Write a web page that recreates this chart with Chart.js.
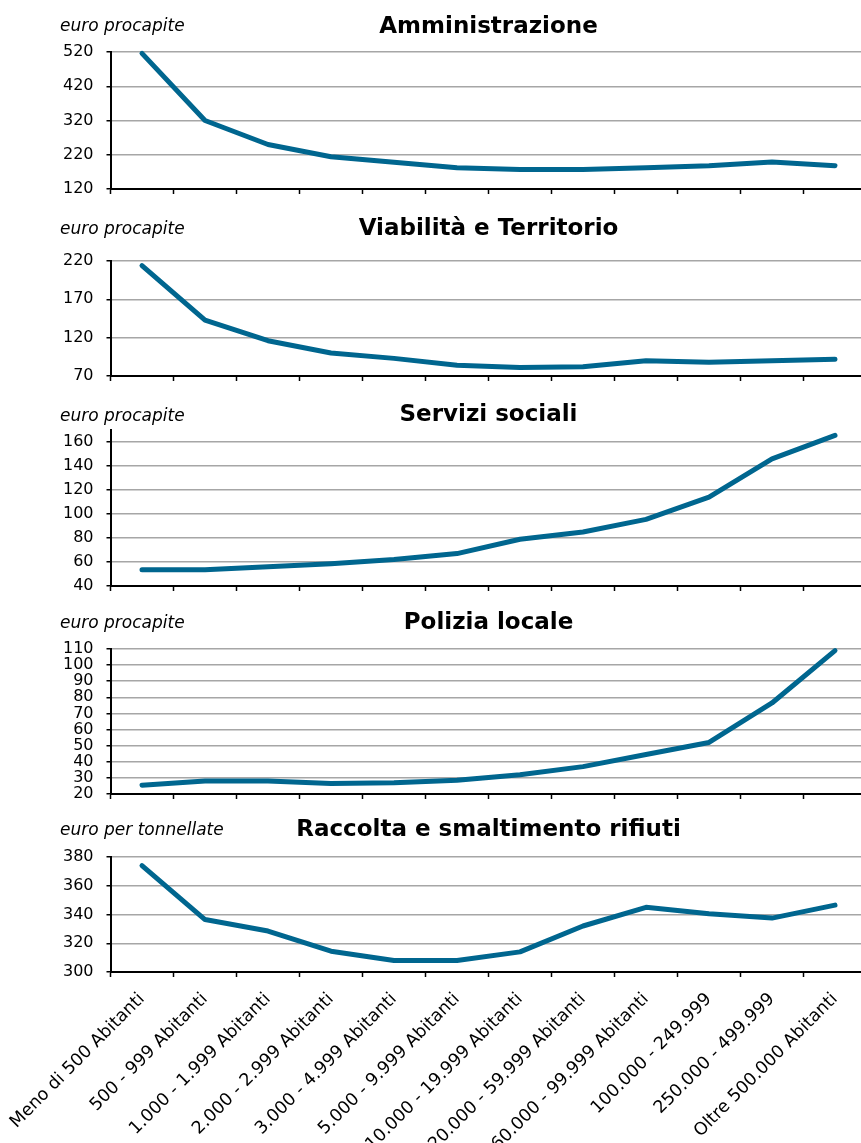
<!DOCTYPE html>
<html>
<head>
<meta charset="utf-8">
<script src="https://cdn.jsdelivr.net/npm/chart.js@4.4.0/dist/chart.umd.min.js"></script>
<style>
  html, body { margin: 0; padding: 0; background: #fff; overflow: hidden; width: 861px; height: 1143px; }
  canvas { position: absolute; left: 0; }
</style>
</head>
<body>
<canvas id="c1"></canvas>
<canvas id="c2"></canvas>
<canvas id="c3"></canvas>
<canvas id="c4"></canvas>
<canvas id="c5"></canvas>
<script>
const categories = ['Meno di 500 Abitanti','500 - 999 Abitanti','1.000 - 1.999 Abitanti','2.000 - 2.999 Abitanti','3.000 - 4.999 Abitanti','5.000 - 9.999 Abitanti','10.000 - 19.999 Abitanti','20.000 - 59.999 Abitanti','60.000 - 99.999 Abitanti','100.000 - 249.999','250.000 - 499.999','Oltre 500.000 Abitanti'];

const amministrazione = [516, 320, 250, 214, 198, 182, 177, 177, 182, 188, 199, 188];
const viabilita = [214, 143, 116, 100, 93, 84, 81, 82, 90, 88, 90, 92];
const serviziSociali = [53.5, 53.5, 56, 58.5, 62, 67, 79, 85, 95.5, 114, 146, 165.5];
const poliziaLocale = [25.5, 28, 28, 26.5, 27, 28.6, 32, 37, 44.5, 52, 76.5, 109];
const rifiuti = [374, 336.5, 328.5, 314.5, 308, 308, 314, 332, 345, 340.5, 337.5, 346.5];

const ammTicks = [120, 220, 320, 420, 520];
const viaTicks = [70, 120, 170, 220];
const socTicks = [40, 60, 80, 100, 120, 140, 160];
const polTicks = [20, 30, 40, 50, 60, 70, 80, 90, 100, 110];
const rifTicks = [300, 320, 340, 360, 380];

const titles = ['Amministrazione', 'Viabilità e Territorio', 'Servizi sociali', 'Polizia locale', 'Raccolta e smaltimento rifiuti'];
const units = ['euro procapite', 'euro procapite', 'euro procapite', 'euro procapite', 'euro per tonnellate'];

const FONT = "'DejaVu Sans', sans-serif";
const LINE_COLOR = '#00668f';
const CANVAS_W = 870;

function makePanel(cfg) {
  const cv = document.getElementById(cfg.id);
  cv.width = CANVAS_W;
  cv.height = cfg.h;
  cv.style.top = cfg.top + 'px';
  cv.style.width = CANVAS_W + 'px';
  cv.style.height = cfg.h + 'px';
  const textPlugin = {
    id: 'panelText',
    afterDraw(chart) {
      const ctx = chart.ctx;
      const area = chart.chartArea;
      ctx.save();
      ctx.fillStyle = '#000';
      ctx.textBaseline = 'alphabetic';
      ctx.font = "bold 23px " + FONT;
      ctx.textAlign = 'center';
      ctx.fillText(cfg.title, (area.left + area.right) / 2, cfg.titleBase - cfg.top);
      ctx.font = "oblique 17px " + FONT;
      ctx.textAlign = 'left';
      ctx.fillText(cfg.unit, 60, cfg.unitBase - cfg.top);
      ctx.restore();
    }
  };
  return new Chart(cv, {
    type: 'line',
    data: {
      labels: categories,
      datasets: [{
        data: cfg.data,
        borderColor: LINE_COLOR,
        borderWidth: 5,
        borderCapStyle: 'round',
        borderJoinStyle: 'round',
        pointRadius: 0,
        tension: 0,
        fill: false,
        clip: 6
      }]
    },
    options: {
      responsive: false,
      animation: false,
      devicePixelRatio: 1,
      layout: { padding: { top: cfg.areaTop - cfg.top, right: 3.5, bottom: 0, left: 0 } },
      plugins: { legend: { display: false }, tooltip: { enabled: false }, title: { display: false } },
      scales: {
        x: {
          type: 'category',
          offset: true,
          grid: { display: true, offset: true, drawOnChartArea: false, drawTicks: true, tickLength: 5, tickColor: '#000', tickWidth: 1.5 },
          border: { display: true, color: '#000', width: 2 },
          ticks: {
            display: cfg.showX,
            autoSkip: false,
            minRotation: 45,
            maxRotation: 45,
            padding: 12,
            color: '#000',
            font: { family: FONT, size: 17.5 }
          },
          afterFit(scale) {
            scale.height = cfg.top + cfg.h - cfg.areaBottom;
            scale.paddingLeft = 0;
            scale.paddingRight = 0;
          }
        },
        y: {
          min: cfg.min,
          max: cfg.max,
          grid: { color: '#a6a6a6', lineWidth: 1.5, drawTicks: true, tickLength: 4, tickColor: '#000', tickWidth: 1.5 },
          border: { display: true, color: '#000', width: 2 },
          ticks: {
            autoSkip: false,
            color: '#000',
            padding: 13,
            font: { family: FONT, size: 16 }
          },
          afterBuildTicks(scale) { scale.ticks = cfg.ticks.map(v => ({ value: v })); },
          afterFit(scale) { scale.width = 110.5; }
        }
      }
    },
    plugins: [textPlugin]
  });
}

// canvases overlap (transparent) so that each x axis has room below its plot area
makePanel({ id: 'c1', top: 0, h: 225, areaTop: 52, areaBottom: 189, titleBase: 33, unitBase: 31, title: titles[0], unit: units[0], data: amministrazione, min: 120, max: 520, ticks: ammTicks, showX: false });
makePanel({ id: 'c2', top: 200, h: 212, areaTop: 261, areaBottom: 376, titleBase: 235, unitBase: 234, title: titles[1], unit: units[1], data: viabilita, min: 70, max: 220, ticks: viaTicks, showX: false });
makePanel({ id: 'c3', top: 390, h: 232, areaTop: 430, areaBottom: 586, titleBase: 421, unitBase: 421, title: titles[2], unit: units[2], data: serviziSociali, min: 40, max: 170, ticks: socTicks, showX: false });
makePanel({ id: 'c4', top: 600, h: 229, areaTop: 649, areaBottom: 794, titleBase: 629, unitBase: 628, title: titles[3], unit: units[3], data: poliziaLocale, min: 20, max: 110, ticks: polTicks, showX: false });
makePanel({ id: 'c5', top: 810, h: 333, areaTop: 857, areaBottom: 972, titleBase: 836, unitBase: 835, title: titles[4], unit: units[4], data: rifiuti, min: 300, max: 380, ticks: rifTicks, showX: true });
</script>
</body>
</html>
